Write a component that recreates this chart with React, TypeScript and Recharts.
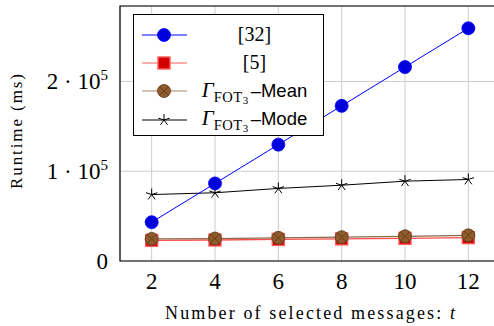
import React from 'react';
import {
    LineChart,
    Line,
    XAxis,
    YAxis,
    CartesianGrid,
    ReferenceArea,
} from 'recharts';

const messages = [2, 4, 6, 8, 10, 12];
const ref32 = [43200, 86400, 129600, 172800, 216000, 259200];
const ref5 = [23000, 23400, 24000, 24600, 25300, 26000];
const fotMean = [24600, 25000, 25800, 26500, 27500, 28600];
const fotMode = [74000, 76000, 80800, 84400, 88900, 90800];

const xTicks = [2, 4, 6, 8, 10, 12];
const yTicks = [0, 100000, 200000];

const data = messages.map((t, i) => ({
    t,
    ref32: ref32[i],
    ref5: ref5[i],
    fotMean: fotMean[i],
    fotMode: fotMode[i],
}));

const SERIF = '"Liberation Serif", "DejaVu Serif", serif';
const SANS = '"Liberation Sans", Arial, sans-serif';

const BlueDot = ({ cx, cy, r = 6.5 }: any) => (
    <circle cx={cx} cy={cy} r={r} fill="#0000dd" stroke="#0000ff" strokeWidth={0.8} />
);

const RedSquare = ({ cx, cy, s = 6 }: any) => (
    <rect
        x={cx - s}
        y={cy - s}
        width={s * 2}
        height={s * 2}
        fill="#d40000"
        stroke="#ff5a5a"
        strokeWidth={1.4}
    />
);

const OTimes = ({ cx, cy, r = 6.5 }: any) => {
    const d = r * 0.7;
    return (
        <g>
            <circle cx={cx} cy={cy} r={r} fill="#8f5b2d" stroke="#5c3815" strokeWidth={0.8} />
            <line x1={cx - d} y1={cy - d} x2={cx + d} y2={cy + d} stroke="#5c3815" strokeWidth={0.8} />
            <line x1={cx - d} y1={cy + d} x2={cx + d} y2={cy - d} stroke="#5c3815" strokeWidth={0.8} />
        </g>
    );
};

const Star = ({ cx, cy, r = 6 }: any) => {
    const rays = [90, 162, 234, 306, 18].map((deg) => {
        const a = (deg * Math.PI) / 180;
        return `M${cx},${cy}L${cx + r * Math.cos(a)},${cy - r * Math.sin(a)}`;
    });
    return <path d={rays.join('')} stroke="#000" strokeWidth={1} fill="none" />;
};

const dotFn = (Comp: any) => (props: any) =>
    props.cx == null ? null : <Comp key={`d-${props.index}`} cx={props.cx} cy={props.cy} />;

const YTick = ({ x, y, payload }: any) => {
    const v = payload.value;
    if (v === 0) {
        return (
            <text x={x} y={y} dy="0.35em" textAnchor="end" fontFamily={SERIF} fontSize={23} fill="#000">
                0
            </text>
        );
    }
    return (
        <text x={x} y={y} dy="0.35em" textAnchor="end" fontFamily={SERIF} fontSize={23} fill="#000">
            <tspan>{`${v / 100000} · 10`}</tspan>
            <tspan dy={-9} fontSize={15}>5</tspan>
        </text>
    );
};

const XTick = ({ x, y, payload }: any) => (
    <text x={x} y={y} dy="0.75em" textAnchor="middle" fontFamily={SERIF} fontSize={23} fill="#000">
        {payload.value}
    </text>
);

const Gamma = ({ suffix }: { suffix: string }) => (
    <span style={{ whiteSpace: 'nowrap' }}>
        <span style={{ fontFamily: SERIF, fontStyle: 'italic', fontSize: 21 }}>Γ</span>
        <span style={{ fontFamily: SERIF, fontSize: 14.5, position: 'relative', top: 5, letterSpacing: 0.5 }}>
            FOT
            <span style={{ fontSize: 11, position: 'relative', top: 2 }}>3</span>
        </span>
        <span style={{ fontFamily: SANS, fontSize: 18.5, marginLeft: 2 }}>{`–${suffix}`}</span>
    </span>
);

const legendItems = [
    { key: 'ref32', color: '#0000ff', Marker: BlueDot, label: <span style={{ fontFamily: SERIF, fontSize: 20 }}>[32]</span> },
    { key: 'ref5', color: '#ff5a5a', Marker: RedSquare, label: <span style={{ fontFamily: SERIF, fontSize: 20 }}>[5]</span> },
    { key: 'fotMean', color: '#a88a6c', Marker: OTimes, label: <Gamma suffix="Mean" /> },
    { key: 'fotMode', color: '#000000', Marker: Star, label: <Gamma suffix="Mode" /> },
];

const ChartLegend = () => (
    <div
        style={{
            position: 'absolute',
            left: 133,
            top: 14,
            width: 189,
            height: 120,
            border: '1px solid #000',
            background: '#fff',
            boxSizing: 'content-box',
        }}
    >
        {legendItems.map((item, i) => (
            <div
                key={item.key}
                style={{
                    position: 'absolute',
                    left: 0,
                    top: 6 + i * 28.2,
                    height: 28,
                    width: 189,
                    display: 'flex',
                    alignItems: 'center',
                }}
            >
                <svg width={60} height={28} style={{ flex: 'none' }}>
                    <line x1={8} y1={14} x2={53} y2={14} stroke={item.color} strokeWidth={1.2} />
                    <item.Marker cx={30} cy={14} />
                </svg>
                <div style={{ flex: 1, textAlign: 'center', color: '#000', lineHeight: '28px', paddingRight: 8 }}>
                    {item.label}
                </div>
            </div>
        ))}
    </div>
);

const App = () => (
    <div
        style={{
            position: 'fixed',
            left: 0,
            top: 0,
            width: 494,
            height: 326,
            overflow: 'hidden',
            background: '#fff',
        }}
    >
        <LineChart width={520} height={326} data={data} margin={{ top: 6, right: 20, left: 0, bottom: 0 }}>
            <CartesianGrid stroke="#cccccc" strokeWidth={1} />
            <XAxis
                dataKey="t"
                type="number"
                domain={[1, 13]}
                ticks={xTicks}
                height={65}
                tickLine={false}
                axisLine={false}
                tickSize={0}
                tickMargin={11}
                tick={<XTick />}
                label={(props: any) => {
                    const vb = props.viewBox;
                    return (
                        <text
                            x={vb.x + vb.width / 2}
                            y={313}
                            dy="0.35em"
                            textAnchor="middle"
                            fontFamily={SERIF}
                            fontSize={18}
                            fill="#000"
                            textLength={290}
                            lengthAdjust="spacing"
                        >
                            Number of selected messages: <tspan fontStyle="italic">t</tspan>
                        </text>
                    );
                }}
            />
            <YAxis
                type="number"
                domain={[0, 284000]}
                ticks={yTicks}
                width={120}
                tickLine={false}
                axisLine={false}
                tickSize={0}
                tickMargin={12}
                tick={<YTick />}
                label={(props: any) => {
                    const vb = props.viewBox;
                    const cy = vb.y + vb.height / 2 - 2;
                    return (
                        <text
                            x={16}
                            y={cy}
                            dy="0.35em"
                            textAnchor="middle"
                            fontFamily={SERIF}
                            fontSize={17}
                            fill="#000"
                            transform={`rotate(-90, 16, ${cy})`}
                            textLength={115}
                            lengthAdjust="spacing"
                        >
                            Runtime (ms)
                        </text>
                    );
                }}
            />
            <ReferenceArea x1={1} x2={13} y1={0} y2={284000} fill="none" stroke="#000" strokeWidth={1.2} ifOverflow="visible" />
            <Line dataKey="ref5" stroke="#ff4d4d" strokeWidth={1.3} dot={dotFn(RedSquare)} isAnimationActive={false} />
            <Line dataKey="fotMean" stroke="#8a6a4a" strokeWidth={1.3} dot={dotFn(OTimes)} isAnimationActive={false} />
            <Line dataKey="fotMode" stroke="#000" strokeWidth={1} dot={dotFn(Star)} isAnimationActive={false} />
            <Line dataKey="ref32" stroke="#0000ff" strokeWidth={1} dot={dotFn(BlueDot)} isAnimationActive={false} />
        </LineChart>
        <ChartLegend />
    </div>
);

export default App;
